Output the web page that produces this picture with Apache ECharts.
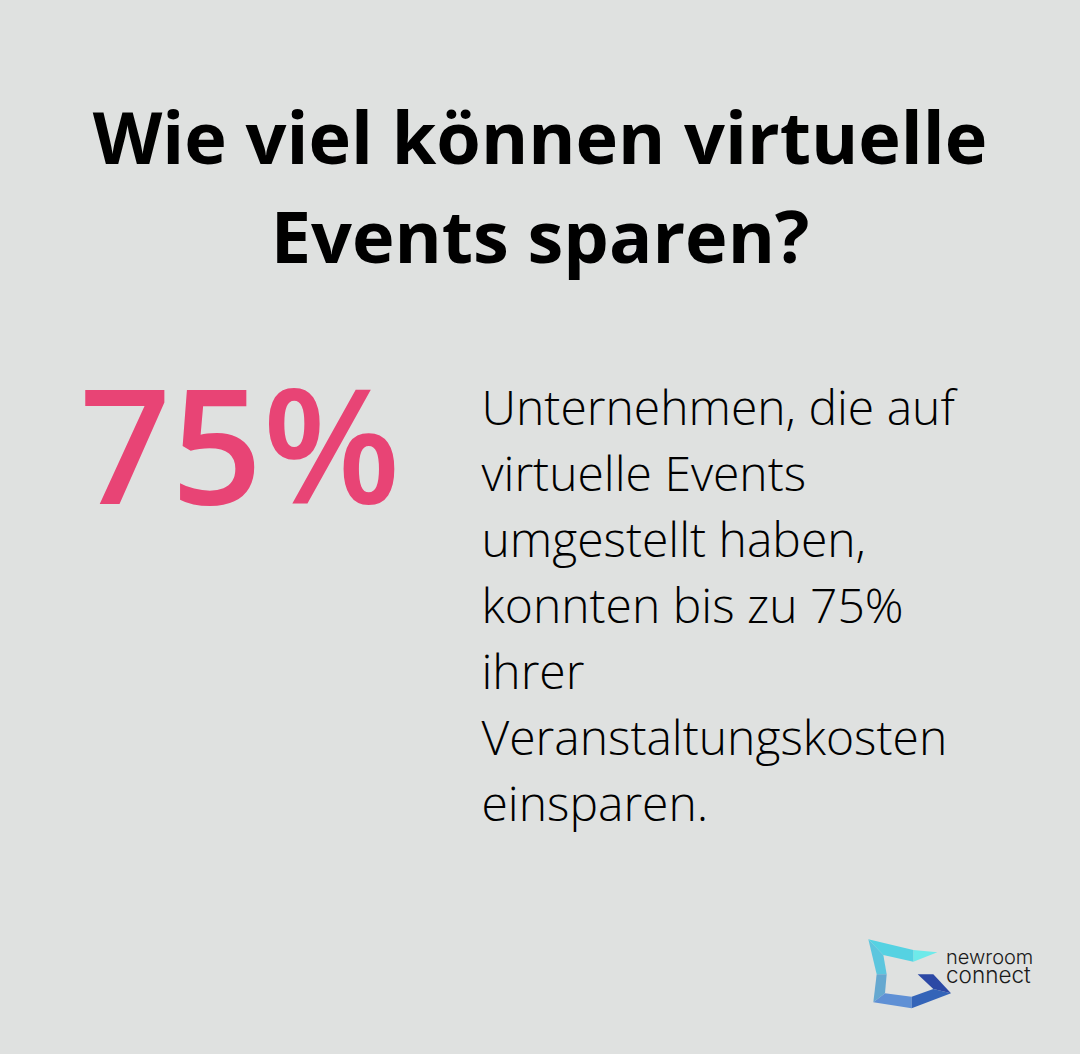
<!DOCTYPE html>
<html><head><meta charset="utf-8">
<style>html,body{margin:0;padding:0;background:#dfe1e0}#c{width:1080px;height:1054px}</style>
<script src="https://cdn.jsdelivr.net/npm/echarts@6/dist/echarts.min.js"></script>
</head><body><div id="c"></div>
<script>
const titleLines = ["Wie viel können virtuelle", "Events sparen?"];
const statValue = "75%";
const bodyLines = ["Unternehmen, die auf", "virtuelle Events", "umgestellt haben,", "konnten bis zu 75%", "ihrer", "Veranstaltungskosten", "einsparen."];
const brandLines = ["newroom", "connect"];
const font = "'Open Sans'";
const chart = echarts.init(document.getElementById('c'), null, {renderer:'svg'});
const els = [];
titleLines.forEach((t,i)=>els.push({type:'text',style:{text:t,x:540,y:136+i*99,align:'center',verticalAlign:'middle',font:"700 72px "+font,fill:'#000'}}));
els.push({type:'text',style:{text:statValue,x:240,y:442,align:'center',verticalAlign:'middle',font:"600 160px "+font,fill:'#e84475'}});
bodyLines.forEach((t,i)=>els.push({type:'text',style:{text:t,x:481.5,y:406+i*66,align:'left',verticalAlign:'middle',font:"300 48px "+font,fill:'#000'}}));
els.push({type:'text',style:{
  text:'{a|'+brandLines[0]+'}\n{b|'+brandLines[1]+'}',x:946,y:965.5,align:'left',verticalAlign:'middle',
  rich:{
    a:{font:"300 20px Inter",lineHeight:18,fill:'#1a1a1a'},
    b:{font:"300 22.5px Inter",lineHeight:18,fill:'#1a1a1a'}
  }}});
const poly=(pts,fill)=>({type:'polygon',shape:{points:pts.map(p=>[850+p[0]/3,925+p[1]/3])},style:{fill}});
els.push(poly([[190,75],[262,82],[190,110]],'#6eeaea'));
els.push(poly([[55,43],[190,75],[190,110],[100,90]],'#55d2e2'));
els.push(poly([[55,43],[100,90],[110,148],[80,148]],'#5cc6de'));
els.push(poly([[80,148],[110,148],[105,205],[70,232]],'#65a8d0'));
els.push(poly([[70,232],[105,205],[185,215],[185,250]],'#5f90d5'));
els.push(poly([[185,215],[250,192],[303,205],[185,250]],'#3464b8'));
els.push(poly([[203,148],[250,148],[303,205],[250,192]],'#2c48a5'));
chart.setOption({backgroundColor:'#dfe1e0',animation:false,graphic:{elements:els}});
</script></body></html>
